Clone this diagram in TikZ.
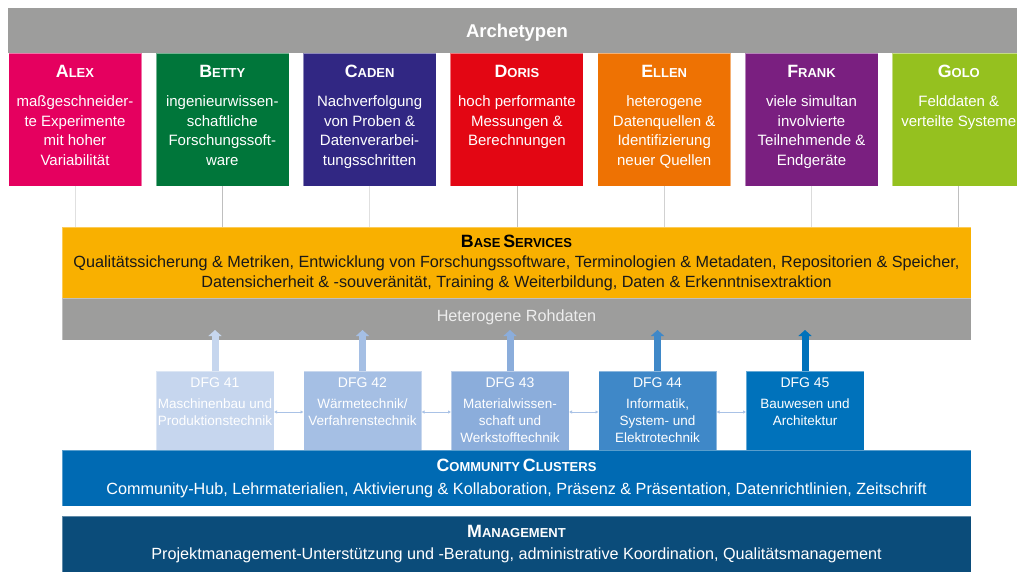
\documentclass[tikz,border=0pt]{standalone}
\usepackage{fontspec}
\setmainfont{Liberation Sans}
\usetikzlibrary{arrows.meta}
\definecolor{hdgray}{HTML}{9D9D9C}
\definecolor{calex}{HTML}{E5005F}
\definecolor{cbetty}{HTML}{00763A}
\definecolor{ccaden}{HTML}{312783}
\definecolor{cdoris}{HTML}{E30613}
\definecolor{cellen}{HTML}{EE7203}
\definecolor{cfrank}{HTML}{7A1F80}
\definecolor{cgolo}{HTML}{95C11F}
\definecolor{cbase}{HTML}{F9B000}
\definecolor{dA}{HTML}{C6D6EE}
\definecolor{dB}{HTML}{A5BFE4}
\definecolor{dC}{HTML}{8BADDB}
\definecolor{dD}{HTML}{3F88C8}
\definecolor{dE}{HTML}{0072BB}
\definecolor{ccomm}{HTML}{006AB3}
\definecolor{cmgmt}{HTML}{0B4C7A}
\definecolor{linkc}{HTML}{A9C2E6}
\newcommand\sct[2]{{\bfseries\fontsize{17.8}{20}\selectfont #1\fontsize{13}{20}\selectfont #2}}
\newcommand\archbox[6]{%
  \node[abox, fill=#3] (#1) at (#2,119.5) {};
  \node[atitle] (#1t) at (#2,77.5) {\sct{#4}{#5}};
  \node[abody] (#1b) at (#2,96) {\rule{0pt}{11pt}#6};
}
\newcommand\dfgbox[5]{%
  \node[dbox, fill=#3] (#1) at (#2,410.5) {};
  \node[dtitle] (#1t) at (#2,387) {#4};
  \node[dbody] (#1b) at (#2,398.5) {\rule{0pt}{10pt}#5};
}
\begin{document}
\begin{tikzpicture}[x=1pt,y=-1pt,
  every node/.style={inner sep=0pt, outer sep=0pt},
  abox/.style={rectangle, minimum width=133pt, minimum height=133pt, draw=white, draw opacity=0.45, line width=0.6pt},
  atitle/.style={anchor=base, text=white},
  abody/.style={anchor=north, align=center, text=white, font=\fontsize{15}{19.5}\selectfont},
  dbox/.style={rectangle, minimum width=118pt, minimum height=79pt, draw=white, draw opacity=0.4, line width=0.5pt},
  dtitle/.style={anchor=base, text=white, font=\fontsize{14}{16.8}\selectfont},
  dbody/.style={anchor=north, align=center, text=white, font=\fontsize{13.5}{16.8}\selectfont},
  band/.style={rectangle, minimum width=909pt, draw=white, draw opacity=0.35, line width=0.6pt},
  vline/.style={draw=black!22, line width=0.8pt},
  upar/.style={line width=7pt, -{Triangle[width=13pt,length=6pt]}},
  link/.style={draw=linkc, line width=0.8pt, {Latex[length=3pt,width=3.5pt]}-{Latex[length=3pt,width=3.5pt]}},
  btext/.style={anchor=base, font=\fontsize{16.2}{20}\selectfont}
]
\useasboundingbox (0,0) rectangle (1017,572);
\clip (0,0) rectangle (1017,572);
\fill[white] (0,0) rectangle (1017,572);

% top bar
\node[rectangle, fill=hdgray, minimum width=1018pt, minimum height=45pt] (top) at (517,30.5) {};
\node[anchor=base, text=white, font=\bfseries\fontsize{18.5}{20}\selectfont] (toptxt) at (517,37.5) {Archetypen};

% base services & raw data
\node[band, fill=cbase, minimum height=71pt] (bs) at (516.5,262.5) {};
\node[anchor=base] (bst) at (516.5,247.5) {\sct{B}{ASE} \sct{S}{ERVICES}};
\node[anchor=north, align=center, font=\fontsize{16.2}{20}\selectfont, text=black!90] (bsb) at (516.5,256)
  {\rule{0pt}{11.5pt}Qualitätssicherung \& Metriken, Entwicklung von Forschungssoftware, Terminologien \& Metadaten, Repositorien \& Speicher,\\
   Datensicherheit \& -souveränität, Training \& Weiterbildung, Daten \& Erkenntnisextraktion};
\node[band, fill=hdgray, minimum height=42pt] (raw) at (516.5,319) {};
\node[btext, text=white!93!black] (rawt) at (516.5,321.5) {Heterogene Rohdaten};

% archetypes
\archbox{alex}{75}{calex}{A}{LEX}{maßgeschneider-\\te Experimente\\mit hoher\\Variabilität}
\archbox{betty}{222.3}{cbetty}{B}{ETTY}{ingenieurwissen-\\schaftliche\\Forschungssoft-\\ware}
\archbox{caden}{369.6}{ccaden}{C}{ADEN}{Nachverfolgung\\von Proben \&\\Datenverarbei-\\tungsschritten}
\archbox{doris}{516.9}{cdoris}{D}{ORIS}{hoch performante\\Messungen \&\\Berechnungen}
\archbox{ellen}{664.2}{cellen}{E}{LLEN}{heterogene\\Datenquellen \&\\Identifizierung\\neuer Quellen}
\archbox{frank}{811.5}{cfrank}{F}{RANK}{viele simultan\\involvierte\\Teilnehmende \&\\Endgeräte}
\archbox{golo}{958.8}{cgolo}{G}{OLO}{Felddaten \&\\verteilte Systeme}

% connectors archetypes -> base services
\draw[vline, draw=black!12] (alex.south) -- (alex.south |- bs.north);
\draw[vline, draw=black!25] (betty.south) -- (betty.south |- bs.north);
\draw[vline, draw=black!12] (caden.south) -- (caden.south |- bs.north);
\draw[vline, draw=black!25] (doris.south) -- (doris.south |- bs.north);
\draw[vline, draw=black!18] (ellen.south) -- (ellen.south |- bs.north);
\draw[vline, draw=black!14] (frank.south) -- (frank.south |- bs.north);
\draw[vline, draw=black!25] (golo.south) -- (golo.south |- bs.north);

% DFG boxes
\dfgbox{d41}{215}{dA}{DFG 41}{Maschinenbau und\\Produktionstechnik}
\dfgbox{d42}{362.5}{dB}{DFG 42}{Wärmetechnik/\\Verfahrenstechnik}
\dfgbox{d43}{510}{dC}{DFG 43}{Materialwissen-\\schaft und\\Werkstofftechnik}
\dfgbox{d44}{657.5}{dD}{DFG 44}{Informatik,\\System- und\\Elektrotechnik}
\dfgbox{d45}{805}{dE}{DFG 45}{Bauwesen und\\Architektur}

% arrows up into raw data
\coordinate (a41) at (215,330);
\coordinate (a42) at (362.5,330);
\coordinate (a43) at (510,330);
\coordinate (a44) at (657.5,330);
\coordinate (a45) at (805,330);
\draw[upar, dA] (d41.north) -- (a41);
\draw[upar, dB] (d42.north) -- (a42);
\draw[upar, dC] (d43.north) -- (a43);
\draw[upar, dD] (d44.north) -- (a44);
\draw[upar, dE] (d45.north) -- (a45);

% links between DFG boxes
\draw[link] ([yshift=-1.5pt]d41.east) -- ([yshift=-1.5pt]d42.west);
\draw[link] ([yshift=-1.5pt]d42.east) -- ([yshift=-1.5pt]d43.west);
\draw[link] ([yshift=-1.5pt]d43.east) -- ([yshift=-1.5pt]d44.west);
\draw[link] ([yshift=-1.5pt]d44.east) -- ([yshift=-1.5pt]d45.west);

% community clusters
\node[band, fill=ccomm, minimum height=56pt] (cc) at (516.5,478) {};
\node[anchor=base, text=white] (cct) at (516.5,471.5) {\sct{C}{OMMUNITY} \sct{C}{LUSTERS}};
\node[btext, text=white] (ccb) at (516.5,494.5) {Community-Hub, Lehrmaterialien, Aktivierung \& Kollaboration, Präsenz \& Präsentation, Datenrichtlinien, Zeitschrift};

% management
\node[band, fill=cmgmt, minimum height=64pt] (mg) at (516.5,548) {};
\node[anchor=base, text=white] (mgt) at (516.5,537.5) {\sct{M}{ANAGEMENT}};
\node[btext, text=white] (mgb) at (516.5,559.5) {Projektmanagement-Unterstützung und -Beratung, administrative Koordination, Qualitätsmanagement};
\end{tikzpicture}
\end{document}
